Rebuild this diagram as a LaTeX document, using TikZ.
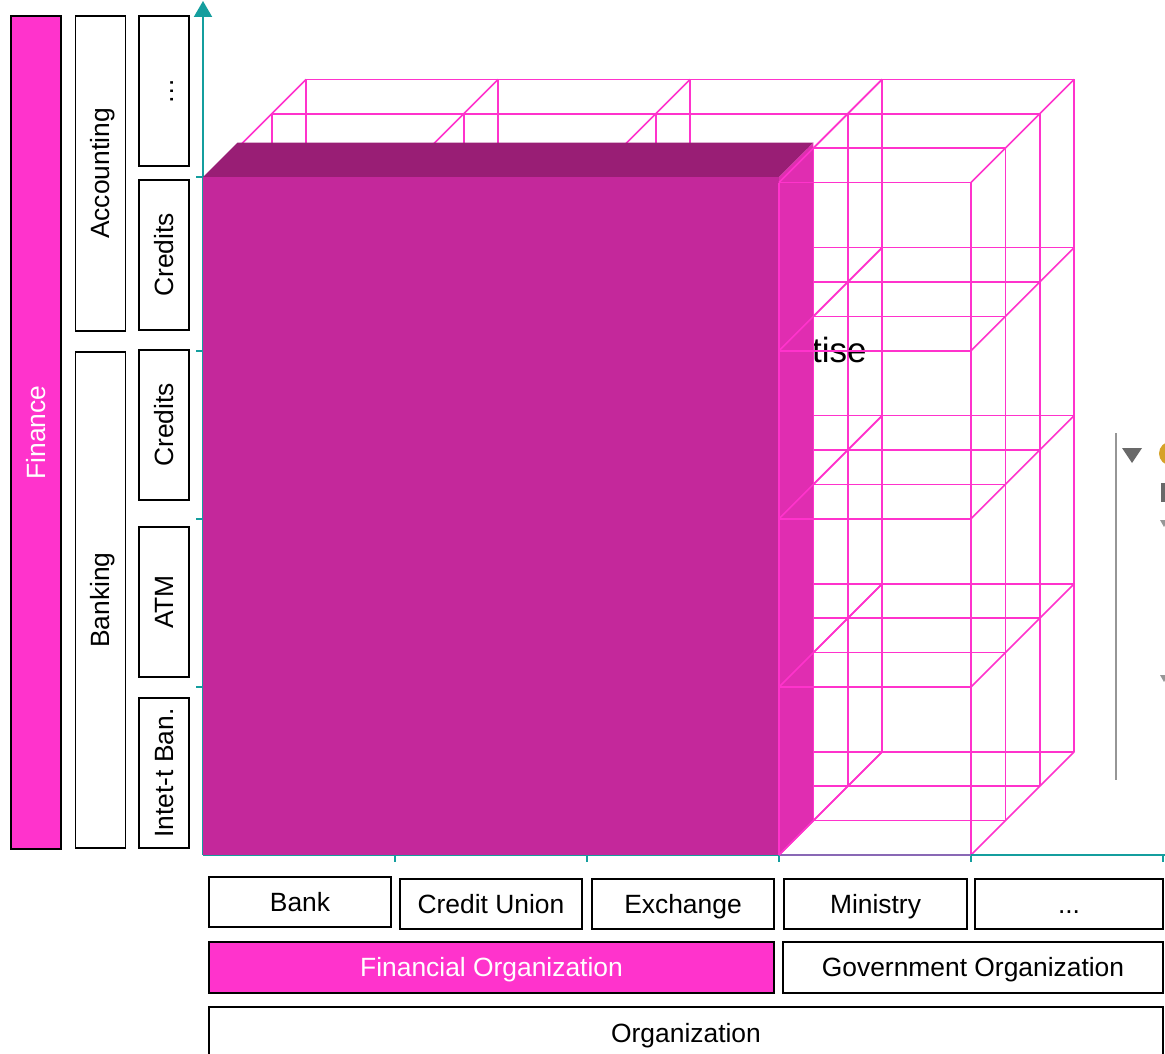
\documentclass[tikz,border=0pt]{standalone}
\usepackage{fontspec}
\setmainfont{Liberation Sans}
\usetikzlibrary{arrows.meta}

\definecolor{hotpink}{RGB}{255,51,204}
\definecolor{gridpink}{RGB}{255,51,204}
\definecolor{blockfront}{RGB}{196,40,155}
\definecolor{blocktop}{RGB}{153,30,117}
\definecolor{blockside}{RGB}{224,45,177}
\definecolor{axisteal}{RGB}{20,158,158}
\definecolor{uigray}{RGB}{150,150,150}
\definecolor{uidark}{RGB}{105,105,105}
\definecolor{uigold}{RGB}{214,162,40}

\tikzset{
  lbl/.style={draw=black, line width=1.8pt, fill=white, inner sep=0pt,
    font=\fontsize{26.4}{30}\selectfont, text height=18.9pt, text depth=0pt},
  vbox/.style={lbl, rotate=90, minimum height=50pt},
  hbox/.style={lbl},
  hot/.style={fill=hotpink, text=white},
  grid line/.style={draw=gridpink, line width=1.6pt},
  axis line/.style={draw=axisteal, line width=2pt},
  tick/.style={draw=axisteal, line width=2pt},
}

\begin{document}
\begin{tikzpicture}[x=1pt,y=-1pt]
\useasboundingbox (0,0) rectangle (1165,1054);
\fill[white] (0,0) rectangle (1165,1054);

% wireframe lattice: 4 columns x 4 rows x 3 layers, oblique depth
\def\dep{34.4}
\foreach \k in {0,1,2,3} {
  \foreach \r in {0,...,4} {
    \draw[grid line] ({203+\k*\dep},{855-\r*168.1-\k*\dep}) -- ({971+\k*\dep},{855-\r*168.1-\k*\dep});
  }
  \foreach \c in {0,...,4} {
    \draw[grid line] ({203+\c*192+\k*\dep},{182.6-\k*\dep}) -- ({203+\c*192+\k*\dep},{855-\k*\dep});
  }
}
\foreach \c in {0,...,4} {
  \foreach \r in {0,...,4} {
    \draw[grid line] ({203+\c*192},{855-\r*168.1}) -- ++({3*\dep},{-3*\dep});
  }
}

% label partly hidden behind the solid block
\node[font=\fontsize{35}{40}\selectfont, anchor=base west, inner sep=0pt] (tail) at (812,362) {tise};

% axes
\coordinate (O) at (203,855);
\coordinate (ytop) at (203,1);
\coordinate (xend) at (1165,855);
\draw[axis line, -{Triangle[width=18pt,length=16pt]}] (O) -- (ytop);
\draw[axis line] (O) -- (xend);
\foreach \yy in {177,351,519,687} \draw[tick] (196,\yy) -- (203,\yy);
\foreach \xx in {395,587,779,971,1163} \draw[tick] (\xx,855) -- (\xx,862);

% solid block
\fill[blocktop] (203,177) -- (237.4,142.6) -- (813.4,142.6) -- (779,177) -- cycle;
\fill[blockside] (779,177) -- (813.4,142.6) -- (813.4,820.6) -- (779,855) -- cycle;
\fill[blockfront] (203,177) rectangle (779,855);

% lattice edges lying in front of the block side
\foreach \r in {1,...,4} \draw[grid line] (779,{855-\r*168.1}) -- (971,{855-\r*168.1});
\foreach \r in {0,...,4} \draw[grid line] (779,{855-\r*168.1}) -- ++({3*\dep},{-3*\dep});
\draw[grid line] (779,182.6) -- (779,855);
\draw[grid line] (813.4,148.2) -- (813.4,820.6);
\draw[grid line, opacity=.5] (779,855) -- (971,855);

% vertical category boxes
\node[vbox, hot, minimum width=833pt] (finance) at (36,432.5) {Finance};
\node[vbox, minimum width=315pt] (accounting) at (100.5,173.5) {Accounting};
\node[vbox, minimum width=496pt] (banking) at (100.5,600) {Banking};
\node[vbox, minimum width=150pt] (more1) at (164,91) {…};
\node[vbox, minimum width=150pt] (credits1) at (164,255) {Credits};
\node[vbox, minimum width=150pt] (credits2) at (164,425) {Credits};
\node[vbox, minimum width=150pt] (atm) at (164,602) {ATM};
\node[vbox, minimum width=150pt] (netbank) at (164,773) {Intet-t Ban.};

% horizontal category boxes
\node[hbox, minimum width=182pt, minimum height=50pt] (bank) at (300,902) {Bank};
\node[hbox, minimum width=182pt, minimum height=50pt] (cunion) at (491,904) {Credit Union};
\node[hbox, minimum width=182pt, minimum height=50pt] (exchange) at (683,904) {Exchange};
\node[hbox, minimum width=183pt, minimum height=50pt] (ministry) at (875.5,904) {Ministry};
\node[hbox, minimum width=188pt, minimum height=50pt] (more2) at (1069,904) {...};
\node[hbox, hot, minimum width=565pt, minimum height=51pt] (finorg) at (491.5,967.5) {Financial Organization};
\node[hbox, minimum width=380pt, minimum height=51pt] (govorg) at (973,967.5) {Government Organization};
\node[hbox, minimum width=954pt, minimum height=53pt] (org) at (686,1033.5) {Organization};

% tree widget at the right edge
\draw[uigray, line width=2pt] (1116,433) -- (1116,780);
\fill[uidark] (1122,448) -- (1142,448) -- (1132,463) -- cycle;
\fill[uigold] (1171,453.5) circle[radius=12pt];
\fill[uidark] (1161,483) rectangle (1167,502);
\fill[uigray] (1160,520) -- (1168,520) -- (1164,527) -- cycle;
\fill[uigray] (1160,675) -- (1168,675) -- (1164,682) -- cycle;
\end{tikzpicture}
\end{document}
